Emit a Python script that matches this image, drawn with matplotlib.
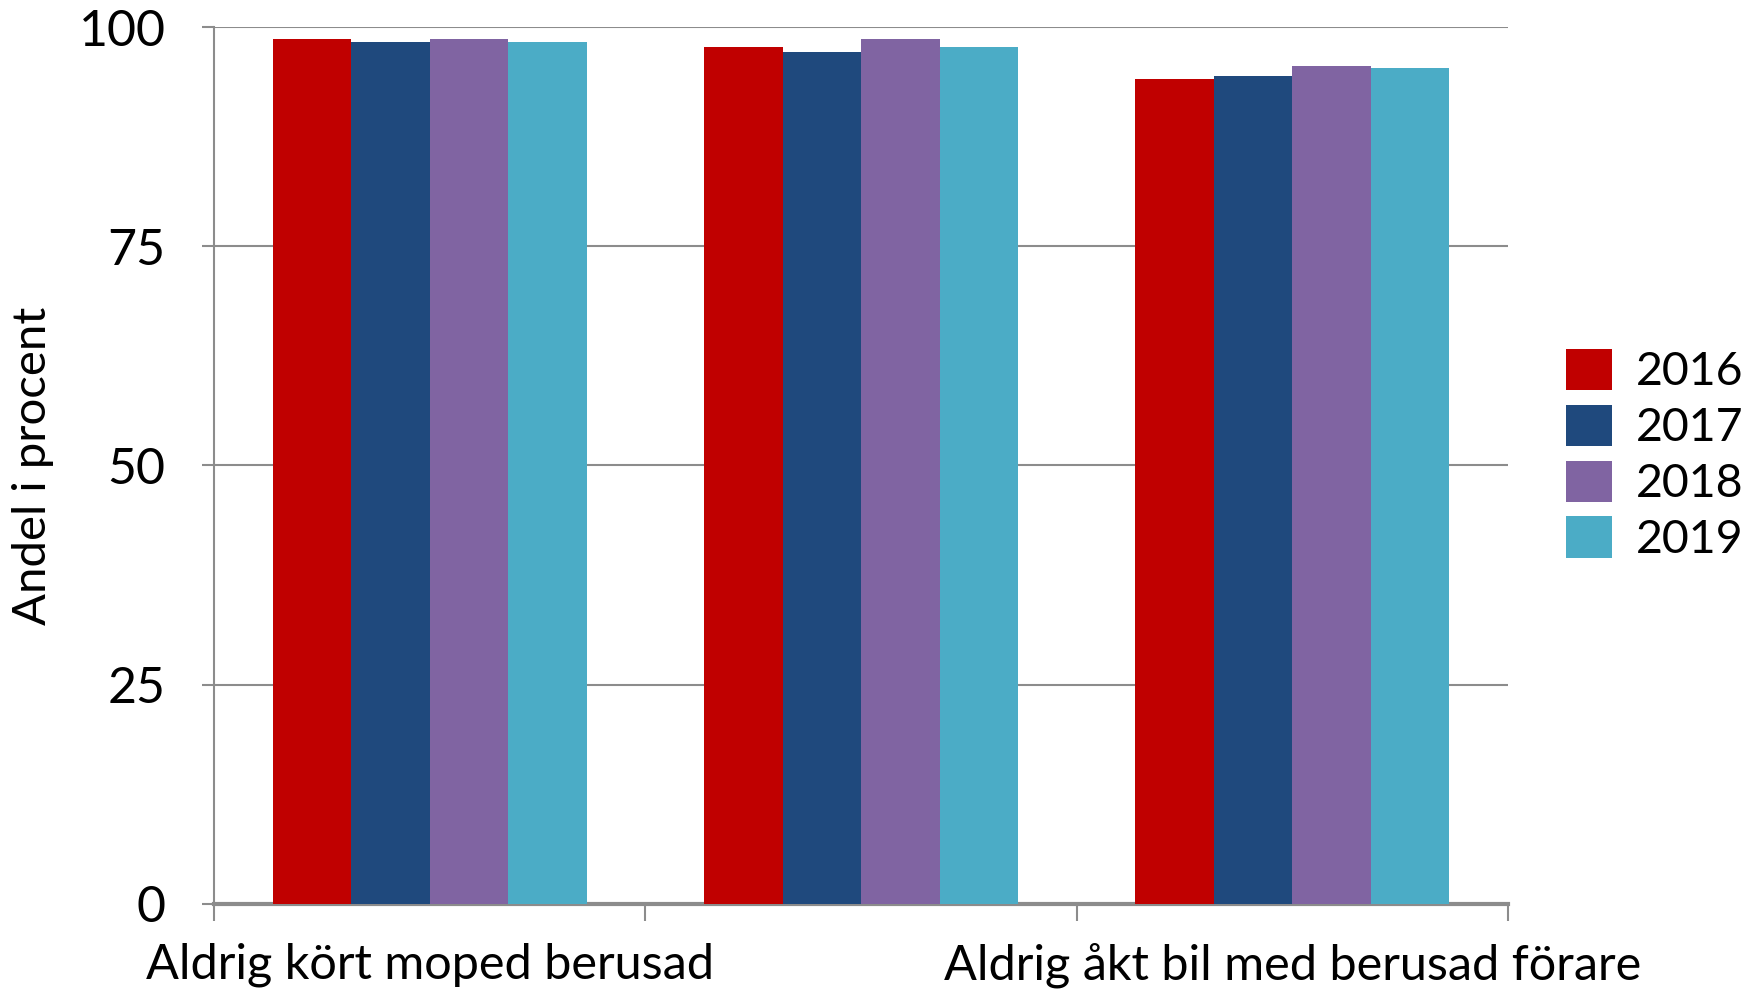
import matplotlib.pyplot as plt
import numpy as np

categories = ["Aldrig kört moped berusad", "", "Aldrig åkt bil med berusad förare"]
years = ["2016", "2017", "2018", "2019"]
v2016 = [98.6, 97.7, 94.1]
v2017 = [98.3, 97.1, 94.4]
v2018 = [98.6, 98.6, 95.6]
v2019 = [98.3, 97.7, 95.3]
colors = ["#C00000", "#1F497D", "#8064A2", "#4BACC6"]

plt.rcParams["font.family"] = ["Lato", "DejaVu Sans"]

fig = plt.figure(figsize=(17.46, 9.9), dpi=100)
ax = fig.add_axes([0.1226, 0.0869, 0.7411, 0.8858])

x = np.arange(len(categories))
bw = 0.182
for i, (vals, yr) in enumerate(zip([v2016, v2017, v2018, v2019], years)):
    ax.bar(x + (i - 1.5) * bw, vals, bw, color=colors[i], label=yr, zorder=3)

ax.set_xlim(-0.5, 2.5)
ax.set_ylim(0, 100)
ax.set_yticks([0, 25, 50, 75, 100])
ax.yaxis.grid(True, color="#8c8c8c", linewidth=1.5, zorder=0)
ax.tick_params(axis="y", labelsize=36, length=9, color="#8c8c8c", width=1.5, pad=26)
ax.set_xticks([-0.5, 0.5, 1.5, 2.5], minor=False)
ax.set_xticklabels([])
ax.tick_params(axis="x", length=12, color="#8c8c8c", width=1.5)
ax.set_xticks(x, minor=True)
ax.set_xticklabels(categories, minor=True, fontsize=35)
ax.tick_params(axis="x", which="minor", length=0, pad=28)

for s in ["top", "right"]:
    ax.spines[s].set_visible(False)
for s in ["left", "bottom"]:
    ax.spines[s].set_color("#8c8c8c")
    ax.spines[s].set_linewidth(1.5)
ax.spines["bottom"].set_linewidth(3)

ax.set_ylabel("Andel i procent", fontsize=34)
ax.yaxis.set_label_coords(-0.124, 0.5)

ax.legend(loc="center left", bbox_to_anchor=(1.023, 0.512), frameon=False, fontsize=33.5,
          handlelength=1.0, handleheight=1.0, handletextpad=0.5, labelspacing=0.24,
          borderaxespad=0.2)

fig.savefig("out.png", dpi=100)
